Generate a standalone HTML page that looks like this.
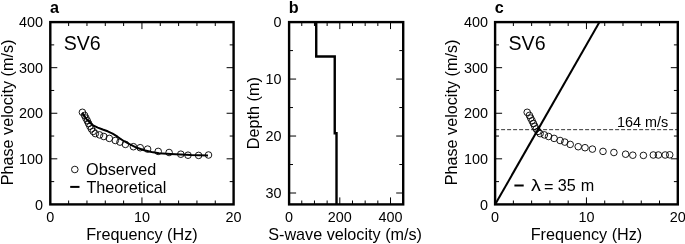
<!DOCTYPE html>
<html lang="en"><head><meta charset="utf-8"><title>SV6 dispersion curves</title>
<style>html,body{margin:0;padding:0;background:#fff}svg{display:block;will-change:transform;opacity:.999}</style></head>
<body>
<svg width="685" height="244" viewBox="0 0 685 244" font-family="Liberation Sans, Arial, Helvetica, sans-serif" fill="#000">
<rect width="685" height="244" fill="#fff"/>
<text x="49.9" y="12.9" font-size="16.2" font-weight="bold">a</text>
<path d="M68.63 204.4v-3.9M68.63 22.1v3.9M86.96 204.4v-3.9M86.96 22.1v3.9M105.29 204.4v-3.9M105.29 22.1v3.9M123.62 204.4v-3.9M123.62 22.1v3.9M141.95 204.4v-7.0M141.95 22.1v7.0M160.28 204.4v-3.9M160.28 22.1v3.9M178.61 204.4v-3.9M178.61 22.1v3.9M196.94 204.4v-3.9M196.94 22.1v3.9M215.27 204.4v-3.9M215.27 22.1v3.9M50.3 181.61h3.9M233.6 181.61h-3.9M50.3 158.82h7.0M233.6 158.82h-7.0M50.3 136.04h3.9M233.6 136.04h-3.9M50.3 113.25h7.0M233.6 113.25h-7.0M50.3 90.46h3.9M233.6 90.46h-3.9M50.3 67.68h7.0M233.6 67.68h-7.0M50.3 44.89h3.9M233.6 44.89h-3.9" stroke="#000" stroke-width="1.0" fill="none"/>
<g fill="none" stroke="#000" stroke-width="0.9"><circle cx="82.40" cy="112.30" r="3.3"/><circle cx="84.60" cy="115.40" r="3.3"/><circle cx="85.90" cy="118.10" r="3.3"/><circle cx="87.30" cy="120.80" r="3.3"/><circle cx="88.60" cy="123.50" r="3.3"/><circle cx="89.90" cy="126.20" r="3.3"/><circle cx="91.40" cy="128.90" r="3.3"/><circle cx="93.20" cy="131.40" r="3.3"/><circle cx="95.30" cy="133.60" r="3.3"/><circle cx="99.60" cy="134.90" r="3.3"/><circle cx="103.80" cy="136.50" r="3.3"/><circle cx="109.30" cy="138.40" r="3.3"/><circle cx="115.30" cy="140.50" r="3.3"/><circle cx="120.00" cy="142.10" r="3.3"/><circle cx="125.40" cy="144.40" r="3.3"/><circle cx="133.40" cy="146.70" r="3.3"/><circle cx="140.20" cy="147.70" r="3.3"/><circle cx="147.60" cy="149.10" r="3.3"/><circle cx="158.20" cy="151.40" r="3.3"/><circle cx="169.10" cy="152.50" r="3.3"/><circle cx="180.80" cy="154.20" r="3.3"/><circle cx="188.00" cy="155.20" r="3.3"/><circle cx="198.60" cy="155.40" r="3.3"/><circle cx="208.50" cy="155.00" r="3.3"/></g>
<polyline fill="none" stroke="#000" stroke-width="2" stroke-linejoin="round" points="82.2,112.9 86.3,118.9 90.5,123.3 93.6,125.7 97.8,127.6 102.7,129.5 107.7,131.3 112.6,133.7 117.5,136.7 122.1,140 129.5,144.2 136.9,147.8 144.2,150.3 151.6,152 159,153.3 170.5,153.9 191,155 208,155.4"/>
<rect x="50.3" y="22.1" width="183.3" height="182.3" fill="none" stroke="#000" stroke-width="2.4"/>
<text x="43.1" y="209.6" text-anchor="end" font-size="14.4">0</text><text x="43.1" y="164.0" text-anchor="end" font-size="14.4">100</text><text x="43.1" y="118.4" text-anchor="end" font-size="14.4">200</text><text x="43.1" y="72.8" text-anchor="end" font-size="14.4">300</text><text x="43.1" y="27.2" text-anchor="end" font-size="14.4">400</text>
<text x="50.3" y="221.8" text-anchor="middle" font-size="14.4">0</text><text x="141.9" y="221.8" text-anchor="middle" font-size="14.4">10</text><text x="233.6" y="221.8" text-anchor="middle" font-size="14.4">20</text>
<text x="141.9" y="239.8" text-anchor="middle" font-size="16.2">Frequency (Hz)</text>
<text transform="translate(12.5 112.5) rotate(-90)" text-anchor="middle" font-size="16.2">Phase velocity (m/s)</text>
<text x="63.7" y="49.5" font-size="19.6">SV6</text>
<circle cx="74.8" cy="169.5" r="3.3" fill="none" stroke="#000" stroke-width="0.9"/>
<text x="86.1" y="175.4" font-size="16.2">Observed</text>
<path d="M70.2 186.9h9.3" stroke="#000" stroke-width="2"/>
<text x="86.4" y="193" font-size="16.2">Theoretical</text>
<text x="288.70000000000005" y="12.6" font-size="16.2" font-weight="bold">b</text>
<path d="M301.78 204.4v-3.9M301.78 22.1v3.9M314.46 204.4v-3.9M314.46 22.1v3.9M327.13 204.4v-3.9M327.13 22.1v3.9M339.81 204.4v-7.0M339.81 22.1v7.0M352.49 204.4v-3.9M352.49 22.1v3.9M365.17 204.4v-3.9M365.17 22.1v3.9M377.84 204.4v-3.9M377.84 22.1v3.9M390.52 204.4v-7.0M390.52 22.1v7.0M289.1 50.58h3.9M403.2 50.58h-3.9M289.1 79.07h7.0M403.2 79.07h-7.0M289.1 107.55h3.9M403.2 107.55h-3.9M289.1 136.04h7.0M403.2 136.04h-7.0M289.1 164.52h3.9M403.2 164.52h-3.9M289.1 193.01h7.0M403.2 193.01h-7.0" stroke="#000" stroke-width="1.0" fill="none"/>
<polyline fill="none" stroke="#000" stroke-width="2.4" stroke-linejoin="miter" points="316.23,22.10 316.23,56.57 334.74,56.57 334.74,133.19 336.51,133.19 336.51,204.40"/>
<rect x="289.1" y="22.1" width="114.1" height="182.3" fill="none" stroke="#000" stroke-width="2.4"/>
<text x="281.4" y="27.2" text-anchor="end" font-size="14.4">0</text><text x="281.4" y="84.2" text-anchor="end" font-size="14.4">10</text><text x="281.4" y="141.2" text-anchor="end" font-size="14.4">20</text><text x="281.4" y="198.2" text-anchor="end" font-size="14.4">30</text>
<text x="289.1" y="221.8" text-anchor="middle" font-size="14.4">0</text><text x="339.8" y="221.8" text-anchor="middle" font-size="14.4">200</text><text x="390.5" y="221.8" text-anchor="middle" font-size="14.4">400</text>
<text x="345.1" y="239.6" text-anchor="middle" font-size="16.2">S-wave velocity (m/s)</text>
<text transform="translate(258.5 113.2) rotate(-90)" text-anchor="middle" font-size="16.2">Depth (m)</text>
<text x="494.70000000000005" y="12.5" font-size="16.2" font-weight="bold">c</text>
<path d="M513.37 204.4v-3.9M513.37 22.1v3.9M531.64 204.4v-3.9M531.64 22.1v3.9M549.91 204.4v-3.9M549.91 22.1v3.9M568.18 204.4v-3.9M568.18 22.1v3.9M586.45 204.4v-7.0M586.45 22.1v7.0M604.72 204.4v-3.9M604.72 22.1v3.9M622.99 204.4v-3.9M622.99 22.1v3.9M641.26 204.4v-3.9M641.26 22.1v3.9M659.53 204.4v-3.9M659.53 22.1v3.9M495.1 181.61h3.9M677.8 181.61h-3.9M495.1 158.82h7.0M677.8 158.82h-7.0M495.1 136.04h3.9M677.8 136.04h-3.9M495.1 113.25h7.0M677.8 113.25h-7.0M495.1 90.46h3.9M677.8 90.46h-3.9M495.1 67.68h7.0M677.8 67.68h-7.0M495.1 44.89h3.9M677.8 44.89h-3.9" stroke="#000" stroke-width="1.0" fill="none"/>
<path d="M495.1 129.66H677.8" stroke="#000" stroke-width="0.8" stroke-dasharray="4 2" fill="none"/>
<g fill="none" stroke="#000" stroke-width="0.9"><circle cx="527.20" cy="112.30" r="3.3"/><circle cx="529.40" cy="115.40" r="3.3"/><circle cx="530.70" cy="118.10" r="3.3"/><circle cx="532.10" cy="120.80" r="3.3"/><circle cx="533.40" cy="123.50" r="3.3"/><circle cx="534.70" cy="126.20" r="3.3"/><circle cx="536.20" cy="128.90" r="3.3"/><circle cx="538.00" cy="131.40" r="3.3"/><circle cx="540.10" cy="133.60" r="3.3"/><circle cx="544.40" cy="134.90" r="3.3"/><circle cx="548.60" cy="136.50" r="3.3"/><circle cx="554.10" cy="138.40" r="3.3"/><circle cx="560.10" cy="140.50" r="3.3"/><circle cx="564.80" cy="142.10" r="3.3"/><circle cx="570.20" cy="144.40" r="3.3"/><circle cx="578.20" cy="146.70" r="3.3"/><circle cx="585.00" cy="147.70" r="3.3"/><circle cx="592.40" cy="149.10" r="3.3"/><circle cx="603.00" cy="151.40" r="3.3"/><circle cx="613.90" cy="152.50" r="3.3"/><circle cx="625.60" cy="154.20" r="3.3"/><circle cx="632.80" cy="155.20" r="3.3"/><circle cx="643.40" cy="155.40" r="3.3"/><circle cx="653.30" cy="155.00" r="3.3"/><circle cx="658.40" cy="155.00" r="3.3"/><circle cx="665.20" cy="155.00" r="3.3"/><circle cx="669.70" cy="154.80" r="3.3"/></g>
<path d="M495.1 204.4L599.50 22.1" stroke="#000" stroke-width="2" fill="none"/>
<rect x="495.1" y="22.1" width="182.7" height="182.3" fill="none" stroke="#000" stroke-width="2.4"/>
<text x="487.9" y="209.6" text-anchor="end" font-size="14.4">0</text><text x="487.9" y="164.0" text-anchor="end" font-size="14.4">100</text><text x="487.9" y="118.4" text-anchor="end" font-size="14.4">200</text><text x="487.9" y="72.8" text-anchor="end" font-size="14.4">300</text><text x="487.9" y="27.2" text-anchor="end" font-size="14.4">400</text>
<text x="495.1" y="221.8" text-anchor="middle" font-size="14.4">0</text><text x="586.5" y="221.8" text-anchor="middle" font-size="14.4">10</text><text x="677.8" y="221.8" text-anchor="middle" font-size="14.4">20</text>
<text x="586.5" y="239.8" text-anchor="middle" font-size="16.2">Frequency (Hz)</text>
<text transform="translate(457.1 112.5) rotate(-90)" text-anchor="middle" font-size="16.2">Phase velocity (m/s)</text>
<text x="508.5" y="49.5" font-size="19.6">SV6</text>
<text x="668.3" y="126.5" text-anchor="end" font-size="14.4">164 m/s</text>
<path d="M514.4 185.5h9.3" stroke="#000" stroke-width="2"/>
<text transform="translate(531.0 191) scale(1.22 1)" font-size="16.2">λ</text>
<text y="191" font-size="16.2"><tspan x="544.0" dy="1.2">=</tspan><tspan x="557.8" dy="-1.2">35</tspan><tspan x="580.8">m</tspan></text>
</svg>
</body></html>
